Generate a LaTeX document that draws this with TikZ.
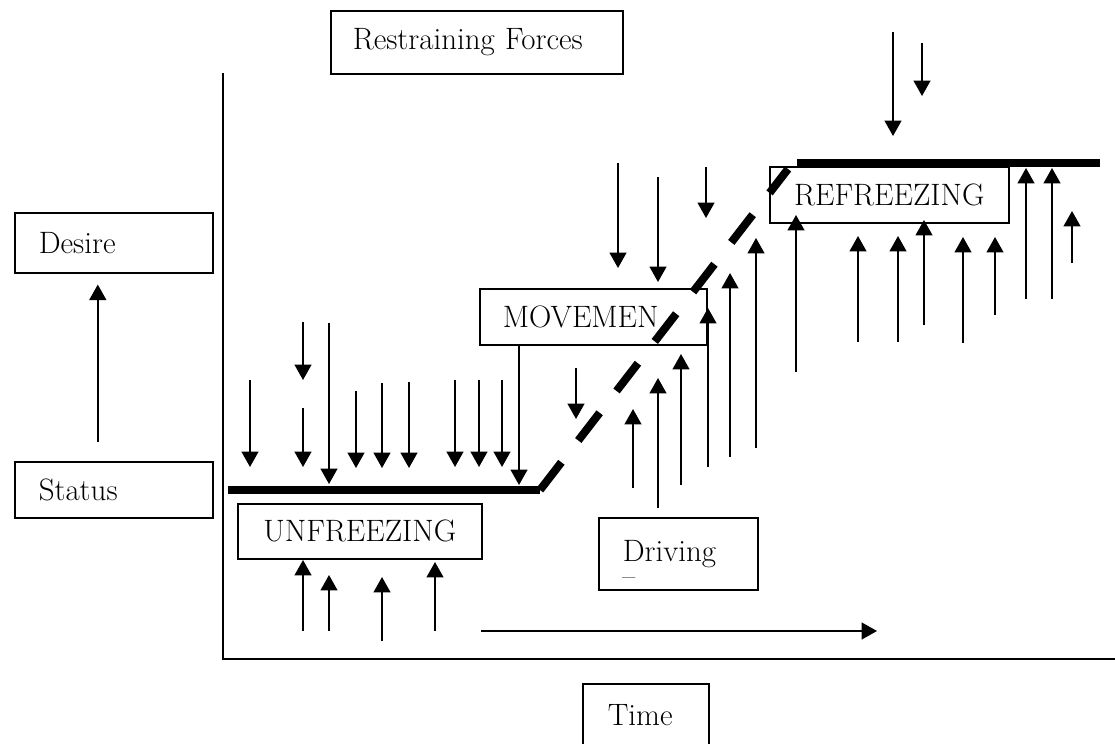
\documentclass[tikz,border=0pt]{standalone}
\usetikzlibrary{arrows.meta}
\tikzstyle{box}=[draw, line width=1.1pt, anchor=north west, align=left,
    inner xsep=0.6cm, font=\fontsize{22}{26}\selectfont]
\tikzstyle{force}=[line width=1.4pt, -{Triangle[length=11pt,width=12pt]}]
\tikzstyle{phase}=[line width=5.7pt]

\begin{document}
\begin{tikzpicture}[x=0.025cm,y=-0.025cm]
  \clip (0,0) rectangle (1115,743);
  \node at (330,10) (restrain)[box, inner xsep=0.55cm, text width=6.2cm, minimum height=1.575cm] {Restraining Forces};
  \node at (14,212) (desire)[box, text width=3.75cm, minimum height=1.5cm] {Desire};
  \node at (14,461) (status)[box, text width=3.75cm, minimum height=1.4cm] {Status};
  \node at (237,503) (unfreeze)[box, align=center, text width=4.9cm, minimum height=1.375cm] {UNFREEZING};
  \node at (479,288) (movemen)[box, inner xsep=0.575cm, text width=4.525cm, minimum height=1.4cm] {MOVEMEN};
  \node at (769,166) (refreeze)[box, align=center, text width=4.775cm, minimum height=1.4cm] {REFREEZING};
  \node at (598,517) (driving)[box, text width=2.775cm, minimum height=1.8cm] {Driving};
  \node[anchor=base west, inner sep=0pt, font=\fontsize{20}{24}\selectfont] at (622,585) (drivemark) {--};
  \node at (582,683) (time)[box, inner xsep=0.625cm, text width=1.9cm, minimum height=1.575cm] {Time};

  % axes
  \draw[line width=1.4pt] (223,73) -- (223,659) -- (1115,659);
  \draw[force] (481,631) -- (877,631);
  \draw[force] ([xshift=-0.4cm,yshift=0.475cm]status.north) -- ([xshift=-0.4cm,yshift=-0.275cm]desire.south);

  % restraining forces
  \foreach \x/\a/\b in {250/380/467, 303/322/380, 303/408/467, 329/323/484, 356/391/468,
      382/383/468, 409/382/468, 455/380/467, 479/380/467, 502/380/467, 576/368/419,
      618/163/268, 658/177/282, 706/167/218, 893/32/136, 922/43/96}
    \draw[force] (\x,\a) -- (\x,\b);
  \draw[force] (movemen.south -| 519,0) -- (519,485);

  % driving forces
  \foreach \x/\a/\b in {303/631/560, 329/631/575, 382/641/577, 435/631/562,
      633/488/409, 658/508/378, 681/485/354, 708/467/308, 730/457/273, 756/448/238,
      796/372/215, 858/342/236, 898/342/236, 924/325/220, 963/343/237, 995/315/237,
      1026/299/168, 1052/299/168, 1072/263/211}
    \draw[force] (\x,\a) -- (\x,\b);

  % status line
  \draw[phase] (228,490) -- (540,490);
  \draw[phase, dash pattern=on 24.9pt off 19.6pt] (540,490) -- (788,169);
  \draw[phase] (797,163) -- (1100,163);
\end{tikzpicture}
\end{document}
